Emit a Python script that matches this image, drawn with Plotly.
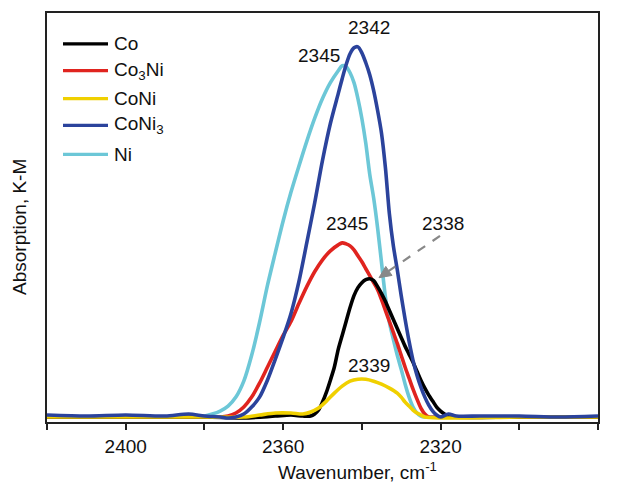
import plotly.graph_objects as go

# ---------------- data (K-M absorption, arbitrary units) ----------------
wn_ni = [2420, 2410, 2400, 2390, 2384, 2380, 2378, 2376, 2374, 2372, 2370, 2368, 2366, 2364, 2362,
         2360, 2358, 2356, 2354, 2352, 2350, 2348, 2346, 2345, 2344, 2343, 2342, 2341, 2340, 2339,
         2338, 2337, 2336, 2335, 2334, 2333, 2332, 2331, 2330, 2329, 2328, 2327, 2326, 2325, 2324,
         2320, 2310, 2300, 2290, 2280]
y_ni = [0.01, 0.00, 0.01, 0.00, 0.01, 0.01, 0.03, 0.06, 0.11, 0.20, 0.36, 0.62, 0.95, 1.32, 1.65,
        1.97, 2.26, 2.52, 2.77, 3.00, 3.20, 3.36, 3.48, 3.53, 3.52, 3.46, 3.36, 3.20, 3.00, 2.75,
        2.44, 2.20, 1.90, 1.55, 1.20, 0.95, 0.78, 0.62, 0.48, 0.33, 0.20, 0.10, 0.04, 0.01, 0.00,
        0.00, 0.00, 0.00, 0.00, 0.00]

wn_co3ni = [2420, 2400, 2385, 2378, 2376, 2374, 2372, 2370, 2368, 2366, 2364, 2362, 2360,
            2358, 2356, 2354, 2352, 2350, 2348, 2346, 2345, 2344, 2343, 2342, 2341, 2340, 2339,
            2338, 2337, 2336, 2335, 2334, 2333, 2332, 2331, 2330, 2329, 2328, 2327, 2326, 2325,
            2324, 2323, 2320, 2280]
y_co3ni = [0.00, 0.00, 0.00, 0.00, 0.00, 0.01, 0.04, 0.10, 0.20, 0.34, 0.50, 0.66, 0.82,
           0.96, 1.14, 1.31, 1.46, 1.58, 1.67, 1.73, 1.75, 1.74, 1.72, 1.68, 1.62, 1.56, 1.49,
           1.42, 1.35, 1.28, 1.18, 1.07, 0.96, 0.85, 0.74, 0.62, 0.50, 0.39, 0.28, 0.18, 0.09,
           0.03, 0.00, 0.00, 0.00]

wn_co = [2420, 2380, 2370, 2362, 2358, 2355, 2353, 2352, 2351, 2350, 2349, 2348, 2347, 2346,
         2345, 2344, 2343, 2342, 2341, 2340, 2339, 2338, 2337, 2336, 2335, 2334, 2333, 2332,
         2331, 2330, 2329, 2328, 2327, 2326, 2325, 2324, 2323, 2322, 2321, 2320, 2319, 2318,
         2317, 2300, 2280]
y_co = [0.00, 0.00, -0.01, 0.01, 0.02, 0.01, 0.01, 0.03, 0.07, 0.15, 0.25, 0.37, 0.50, 0.68,
        0.82, 0.96, 1.10, 1.22, 1.30, 1.35, 1.38, 1.39, 1.37, 1.31, 1.24, 1.16, 1.07, 0.98,
        0.89, 0.80, 0.71, 0.63, 0.55, 0.46, 0.37, 0.29, 0.22, 0.16, 0.10, 0.06, 0.03, 0.01,
        0.00, 0.00, 0.00]

wn_coni = [2420, 2380, 2370, 2366, 2362, 2358, 2355, 2353, 2351, 2349, 2347, 2345, 2343, 2341,
           2339, 2337, 2335, 2333, 2331, 2330, 2329, 2328, 2327, 2326, 2325, 2324, 2320, 2300,
           2280]
y_coni = [0.00, 0.00, 0.00, 0.02, 0.04, 0.04, 0.03, 0.05, 0.09, 0.16, 0.24, 0.31, 0.36, 0.38,
          0.38, 0.36, 0.33, 0.29, 0.24, 0.20, 0.15, 0.11, 0.07, 0.04, 0.02, 0.00, -0.01, 0.00,
          0.00]

wn_coni3 = [2420, 2410, 2400, 2390, 2384, 2380, 2376, 2374, 2372, 2370, 2368, 2366, 2364, 2362,
            2360, 2358, 2356, 2354, 2352, 2350, 2348, 2346, 2345, 2344, 2343, 2342, 2341, 2340,
            2339, 2338, 2337, 2336, 2335, 2334, 2333, 2332, 2331, 2330, 2329, 2328, 2327, 2326,
            2325, 2324, 2323, 2322, 2321, 2320, 2318, 2316, 2310, 2300, 2290, 2280]
y_coni3 = [0.02, 0.01, 0.02, 0.01, 0.03, 0.01, 0.00, -0.01, 0.00, 0.03, 0.10, 0.20, 0.37, 0.58,
           0.80, 1.04, 1.36, 1.75, 2.15, 2.58, 2.95, 3.25, 3.40, 3.54, 3.65, 3.71, 3.72, 3.66,
           3.56, 3.44, 3.28, 3.08, 2.85, 2.50, 2.04, 1.72, 1.48, 1.22, 0.98, 0.76, 0.57, 0.42,
           0.30, 0.20, 0.12, 0.06, 0.02, 0.00, 0.03, 0.01, 0.01, 0.01, 0.00, 0.01]

series = [
    ("Ni", wn_ni, y_ni, "#6cc7d7"),
    ("Co<sub>3</sub>Ni", wn_co3ni, y_co3ni, "#e0241f"),
    ("Co", wn_co, y_co, "#000000"),
    ("CoNi", wn_coni, y_coni, "#f0d000"),
    ("CoNi<sub>3</sub>", wn_coni3, y_coni3, "#2b439c"),
]
legend_order = ["Co", "Co<sub>3</sub>Ni", "CoNi", "CoNi<sub>3</sub>", "Ni"]

x_tickvals = [2400, 2360, 2320, 2280]
x_ticktext = ["2400", "2360", "2320", "2280"]

peak_labels = [  # text, wavenumber, height
    ("2342", 2338.2, 3.91),
    ("2345", 2350.8, 3.63),
    ("2345", 2343.7, 1.945),
    ("2339", 2338.2, 0.52),
    ("2338", 2319.5, 1.94),
]

# ---------------- figure ----------------
W, H = 618, 486
ML, MR, MT, MB = 47, 20, 11, 64
PW, PH = W - ML - MR, H - MT - MB
XR = [2420, 2280]
YR = [-0.05, 4.06]
FONT = "Arial, Liberation Sans, Helvetica, sans-serif"


def pxx(px):
    return (px - ML) / PW


def pxy(py):
    return (H - MB - py) / PH


def dx(px):
    return XR[0] + (XR[1] - XR[0]) * pxx(px)


def dy(py):
    return YR[0] + (YR[1] - YR[0]) * pxy(py)


fig = go.Figure()
for name, xs, ys, col in series:
    fig.add_trace(go.Scatter(x=xs, y=ys, mode="lines", name=name,
                             line=dict(color=col, width=3.6, shape="spline", smoothing=0.8),
                             showlegend=False))

annotations = []
shapes = []

# legend (drawn manually)
colors = {n: c for n, _, _, c in series}
leg_y = [42, 69, 97, 124, 153]
for name, py in zip(legend_order, leg_y):
    shapes.append(dict(type="line", xref="paper", yref="paper",
                       x0=pxx(63), x1=pxx(108), y0=pxy(py), y1=pxy(py),
                       line=dict(color=colors[name], width=3.2)))
    annotations.append(dict(xref="paper", yref="paper", x=pxx(112), y=pxy(py),
                            text=name, showarrow=False, xanchor="left", yanchor="middle",
                            font=dict(size=19, color="#111", family=FONT)))

# peak labels
for txt, xv, yv in peak_labels:
    annotations.append(dict(x=xv, y=yv, text=txt, showarrow=False, xanchor="center",
                            yanchor="middle", font=dict(size=19, color="#111", family=FONT)))

# dashed arrow to the Co peak (tail and tip in pixel positions)
tail = (440.0, 235.0)
tip = (379.0, 277.0)
ux, uy = tail[0] - tip[0], tail[1] - tip[1]
ln = (ux ** 2 + uy ** 2) ** 0.5
ux, uy = ux / ln, uy / ln
hl, hw = 12.0, 5.5
base = (tip[0] + hl * ux, tip[1] + hl * uy)
c1 = (base[0] + hw * uy, base[1] - hw * ux)
c2 = (base[0] - hw * uy, base[1] + hw * ux)
shapes.append(dict(type="line", xref="x", yref="y", x0=dx(tail[0]), y0=dy(tail[1]),
                   x1=dx(base[0]), y1=dy(base[1]),
                   line=dict(color="#888888", width=2.2, dash="dash")))
shapes.append(dict(type="path", xref="x", yref="y",
                   path="M {:.4f},{:.4f} L {:.4f},{:.4f} L {:.4f},{:.4f} Z".format(
                       dx(tip[0]), dy(tip[1]), dx(c1[0]), dy(c1[1]), dx(c2[0]), dy(c2[1])),
                   fillcolor="#888888", line=dict(color="#888888", width=1)))

# axis titles
annotations.append(dict(xref="paper", yref="paper", x=pxx(20), y=pxy(226),
                        text="Absorption, K-M", textangle=-90, showarrow=False,
                        xanchor="center", yanchor="middle",
                        font=dict(size=19, color="#111", family=FONT)))
annotations.append(dict(xref="paper", yref="paper", x=pxx(358), y=pxy(471),
                        text="Wavenumber, cm<sup>-1</sup>", showarrow=False,
                        xanchor="center", yanchor="middle",
                        font=dict(size=19, color="#111", family=FONT)))

fig.update_layout(
    width=W, height=H,
    margin=dict(l=ML, r=MR, t=MT, b=MB, pad=0),
    paper_bgcolor="white", plot_bgcolor="white",
    showlegend=False,
    font=dict(family=FONT, size=19, color="#111"),
    xaxis=dict(range=XR, tickvals=x_tickvals, ticktext=x_ticktext,
               ticks="outside", ticklen=6, tickwidth=1.5, tickcolor="#222",
               minor=dict(tick0=2280, dtick=20, ticks="outside", ticklen=6, tickwidth=1.5,
                          tickcolor="#222", showgrid=False),
               showline=True, linecolor="#222", linewidth=1.5, mirror=True,
               showgrid=False, zeroline=False,
               tickfont=dict(size=19, color="#111", family=FONT)),
    yaxis=dict(range=YR, showticklabels=False, ticks="",
               showline=True, linecolor="#222", linewidth=1.5, mirror=True,
               showgrid=False, zeroline=False),
    annotations=annotations,
    shapes=shapes,
)

fig.write_html("out.html")
